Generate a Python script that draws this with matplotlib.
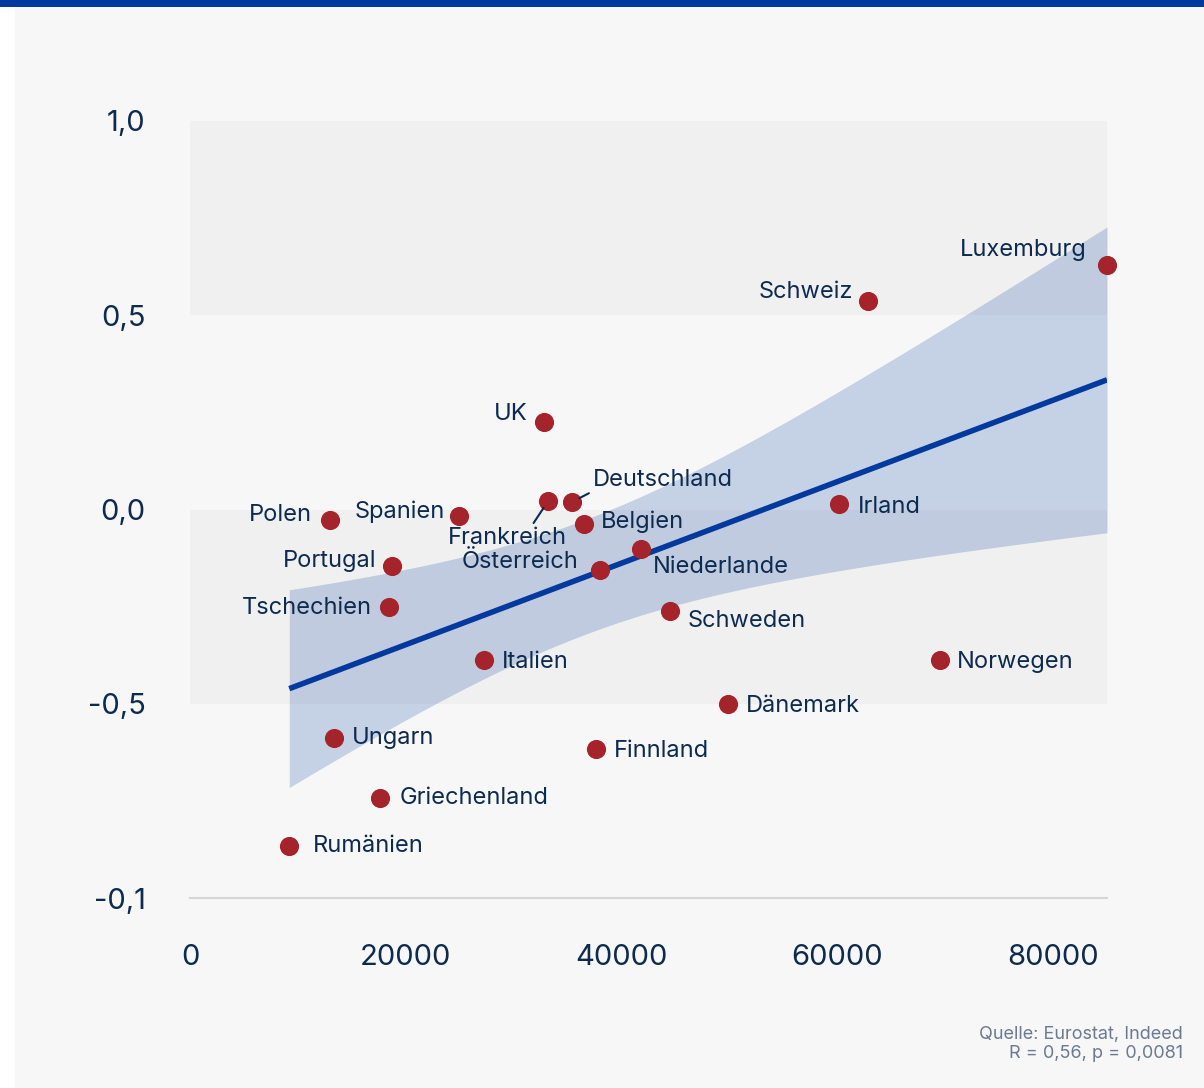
import numpy as np
import matplotlib
matplotlib.use("Agg")
import matplotlib.pyplot as plt
from matplotlib.patches import Rectangle

# Länder, BIP pro Kopf (x) und Indikatorwert (y)
countries = ["Luxemburg", "Schweiz", "UK", "Deutschland", "Frankreich", "Belgien",
             "Niederlande", "Österreich", "Spanien", "Polen", "Portugal", "Tschechien",
             "Irland", "Schweden", "Italien", "Norwegen", "Dänemark", "Finnland",
             "Ungarn", "Griechenland", "Rumänien"]
gdp = [85000, 62850, 32800, 35400, 33200, 36500,
       41850, 38000, 24950, 13000, 18750, 18400,
       60150, 44500, 27250, 69500, 49850, 37650,
       13350, 17600, 9200]
value = [0.629, 0.537, 0.225, 0.019, 0.022, -0.037,
         -0.102, -0.156, -0.017, -0.027, -0.145, -0.250,
         0.014, -0.261, -0.387, -0.387, -0.501, -0.617,
         -0.588, -0.743, -0.866]

y_ticks = [-1.0, -0.5, 0.0, 0.5, 1.0]
y_ticklabels = ["-0,1", "-0,5", "0,0", "0,5", "1,0"]
x_ticks = [0, 20000, 40000, 60000, 80000]

source_text = "Quelle: Eurostat, Indeed\nR = 0,56, p = 0,0081"

# label offsets in pixels (dx, dy, ha)
label_pos = {
    "Luxemburg": (-20, 15, "right"), "Schweiz": (-15, 9, "right"),
    "UK": (-16, 8, "right"), "Deutschland": (21, 22, "left"),
    "Frankreich": (-41, -37, "center"), "Belgien": (17, 2, "left"),
    "Niederlande": (11, -18, "left"), "Österreich": (-22, 8, "right"),
    "Spanien": (-14, 4, "right"), "Polen": (-18, 5, "right"),
    "Portugal": (-16, 5, "right"), "Tschechien": (-17, -1, "right"),
    "Irland": (19, -3, "left"), "Schweden": (18, -10, "left"),
    "Italien": (18, -2, "left"), "Norwegen": (17, -2, "left"),
    "Dänemark": (18, -2, "left"), "Finnland": (18, -2, "left"),
    "Ungarn": (18, 0, "left"), "Griechenland": (20, 0, "left"),
    "Rumänien": (24, 0, "left"),
}

NAVY = "#0d2a4f"
BLUE = "#003a9e"
RED = "#a5232a"
BG = "#f7f7f7"
BAND = "#f0f0f0"

plt.rcParams["font.family"] = ["Inter", "DejaVu Sans"]

W, H = 1204, 1088
fig = plt.figure(figsize=(W / 100, H / 100), dpi=100, facecolor="white")

# page background, left white margin and blue top bar
fig.patches.append(Rectangle((15 / W, 0), 1 - 15 / W, 1, transform=fig.transFigure,
                             facecolor=BG, edgecolor="none", zorder=-10))
fig.patches.append(Rectangle((0, 1 - 7 / H), 1, 7 / H, transform=fig.transFigure,
                             facecolor=BLUE, edgecolor="none", zorder=-5))

left, right, top, bottom = 190, 1107, 121, 898
ax = fig.add_axes([left / W, 1 - bottom / H, (right - left) / W, (bottom - top) / H])
ax.set_facecolor("none")
ax.set_xlim(0, 85000)
ax.set_ylim(-1.0, 1.0)
for s in ax.spines.values():
    s.set_visible(False)

# alternating bands and bottom rule
ax.axhspan(0.5, 1.0, color=BAND, zorder=0, lw=0)
ax.axhspan(-0.5, 0.0, color=BAND, zorder=0, lw=0)
ax.axhline(-1.0, color="#d6d6d6", lw=1.5, zorder=1, clip_on=False)

# linear fit with 95% confidence band
x = np.array(gdp, dtype=float)
y = np.array(value)
n = len(x)
slope, intercept = np.polyfit(x, y, 1)
xs = np.linspace(x.min(), x.max(), 200)
ys = intercept + slope * xs
resid = y - (intercept + slope * x)
s_err = np.sqrt(np.sum(resid ** 2) / (n - 2))
sxx = np.sum((x - x.mean()) ** 2)
t_val = 2.093  # t(0.975, df=19)
ci = t_val * s_err * np.sqrt(1 / n + (xs - x.mean()) ** 2 / sxx)
ax.fill_between(xs, ys - ci, ys + ci, color=BLUE, alpha=0.2, lw=0, zorder=2)
ax.plot(xs, ys, color=BLUE, lw=4, zorder=3, solid_capstyle="butt")

ax.scatter(gdp, value, s=190, color=RED, zorder=4, clip_on=False, linewidths=0)

for name, gx, gy in zip(countries, gdp, value):
    dx, dy, ha = label_pos[name]
    arrow = None
    if name in ("Deutschland", "Frankreich"):
        arrow = dict(arrowstyle="-", color=NAVY, lw=1.5, shrinkA=1, shrinkB=6,
                     relpos=(0, 0) if name == "Deutschland" else (0.7, 1))
    ax.annotate(name, (gx, gy), xytext=(dx, dy), textcoords="offset pixels",
                ha=ha, va="center", fontsize=17, color=NAVY, zorder=5,
                arrowprops=arrow, annotation_clip=False)

ax.set_yticks(y_ticks)
ax.set_yticklabels(y_ticklabels)
ax.set_xticks(x_ticks)
ax.set_xticklabels([str(t) for t in x_ticks])
ax.tick_params(length=0, labelsize=21, labelcolor=NAVY)
ax.tick_params(axis="y", pad=32)
ax.tick_params(axis="x", pad=33)

fig.text(1183 / W, 1 - 1058 / H, source_text, ha="right", va="baseline",
         fontsize=13, color="#6b7a92", linespacing=1.15)

fig.savefig("out.png", dpi=100, facecolor=fig.get_facecolor())
